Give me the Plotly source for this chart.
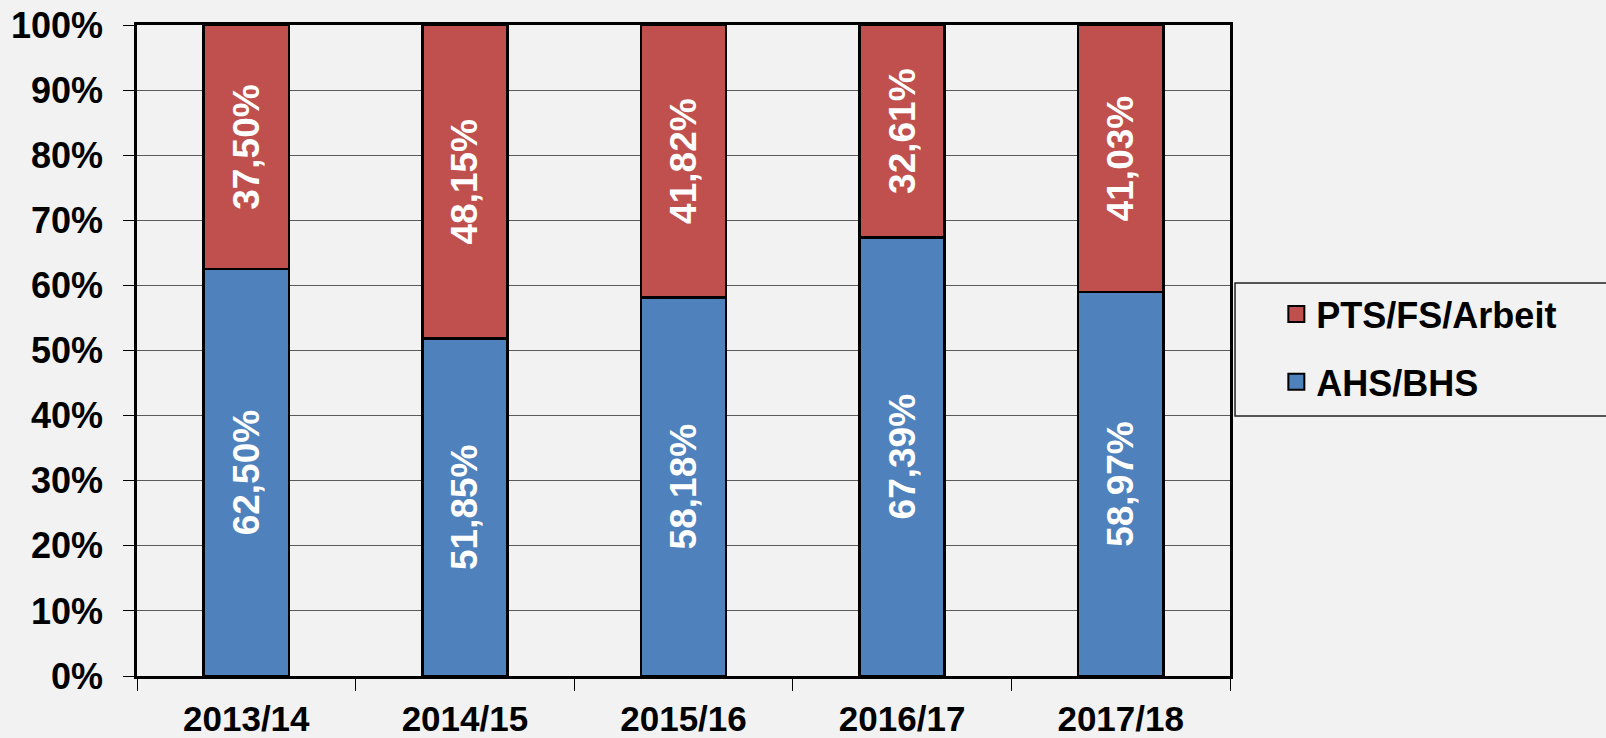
import plotly.graph_objects as go

categories = ["2013/14", "2014/15", "2015/16", "2016/17", "2017/18"]
ahs_bhs = [62.50, 51.85, 58.18, 67.39, 58.97]
pts_fs_arbeit = [37.50, 48.15, 41.82, 32.61, 41.03]
series_names = ["AHS/BHS", "PTS/FS/Arbeit"]
colors = ["#4F81BD", "#C0504D"]
y_ticks = list(range(0, 101, 10))
y_tick_labels = [f"{v}%" for v in y_ticks]

FONT = "Liberation Sans, Arial, sans-serif"
BG = "#F2F2F2"

def fmt(v):
    return f"{v:.2f}".replace(".", ",") + "%"

fig = go.Figure()
for name, vals, col in zip(series_names, [ahs_bhs, pts_fs_arbeit], colors):
    fig.add_trace(go.Bar(
        x=categories, y=vals, name=name,
        marker=dict(color=col, line=dict(color="black", width=2.5)),
        text=[fmt(v) for v in vals], textposition="inside",
        insidetextanchor="middle", textangle=-90, constraintext="none",
        textfont=dict(family=FONT, size=37, color="white", weight="bold"),
        showlegend=False,
    ))

# legend entries (square swatches)
for name, col, grp in [("PTS/FS/Arbeit", colors[1], "a"), ("AHS/BHS", colors[0], "b")]:
    fig.add_trace(go.Scatter(
        x=[None], y=[None], mode="markers", name=name, legendgroup=grp,
        marker=dict(symbol="square", size=20, color=col, line=dict(color="black", width=2)),
        showlegend=True,
    ))

fig.update_layout(
    barmode="stack",
    bargap=0.61,
    width=1606, height=738,
    margin=dict(l=137, r=376, t=25, b=62, autoexpand=False),
    paper_bgcolor=BG, plot_bgcolor=BG,
    font=dict(family=FONT, size=36, color="black", weight="bold"),
    legend=dict(
        x=1.0424, y=0.602, xanchor="left", yanchor="top",
        bgcolor="rgba(0,0,0,0)", borderwidth=0,
        font=dict(family=FONT, size=36, color="black", weight="bold"),
        traceorder="grouped", tracegroupgap=18, itemsizing="trace",
    ),
    shapes=[dict(
        type="rect", xref="paper", yref="paper",
        x0=1.0046, x1=1.36, y0=0.3994, y1=0.6037,
        line=dict(color="#222222", width=1.5), fillcolor="rgba(0,0,0,0)", layer="below",
    )],
)

fig.update_xaxes(
    type="category", tickson="boundaries", ticks="outside", ticklen=12,
    tickwidth=1, tickcolor="black", showgrid=False, automargin=False,
    showline=True, linecolor="black", linewidth=2.5, mirror=True,
    tickangle=0, ticklabelstandoff=10,
    tickfont=dict(family=FONT, size=35, color="black", weight="bold"),
)
fig.update_yaxes(
    range=[0, 100], tickvals=y_ticks, ticktext=y_tick_labels,
    ticks="outside", ticklen=11, tickwidth=1, tickcolor="black",
    showgrid=True, gridcolor="#5a5a5a", gridwidth=1, automargin=False,
    showline=True, linecolor="black", linewidth=2.5, mirror=True,
    zeroline=False, ticklabelstandoff=13,
    tickfont=dict(family=FONT, size=36, color="black", weight="bold"),
)

fig.write_html(
    "out.html",
    post_script="document.body.style.margin='0';document.body.style.padding='0';document.body.style.overflow='hidden';",
    config={"displayModeBar": False},
)
